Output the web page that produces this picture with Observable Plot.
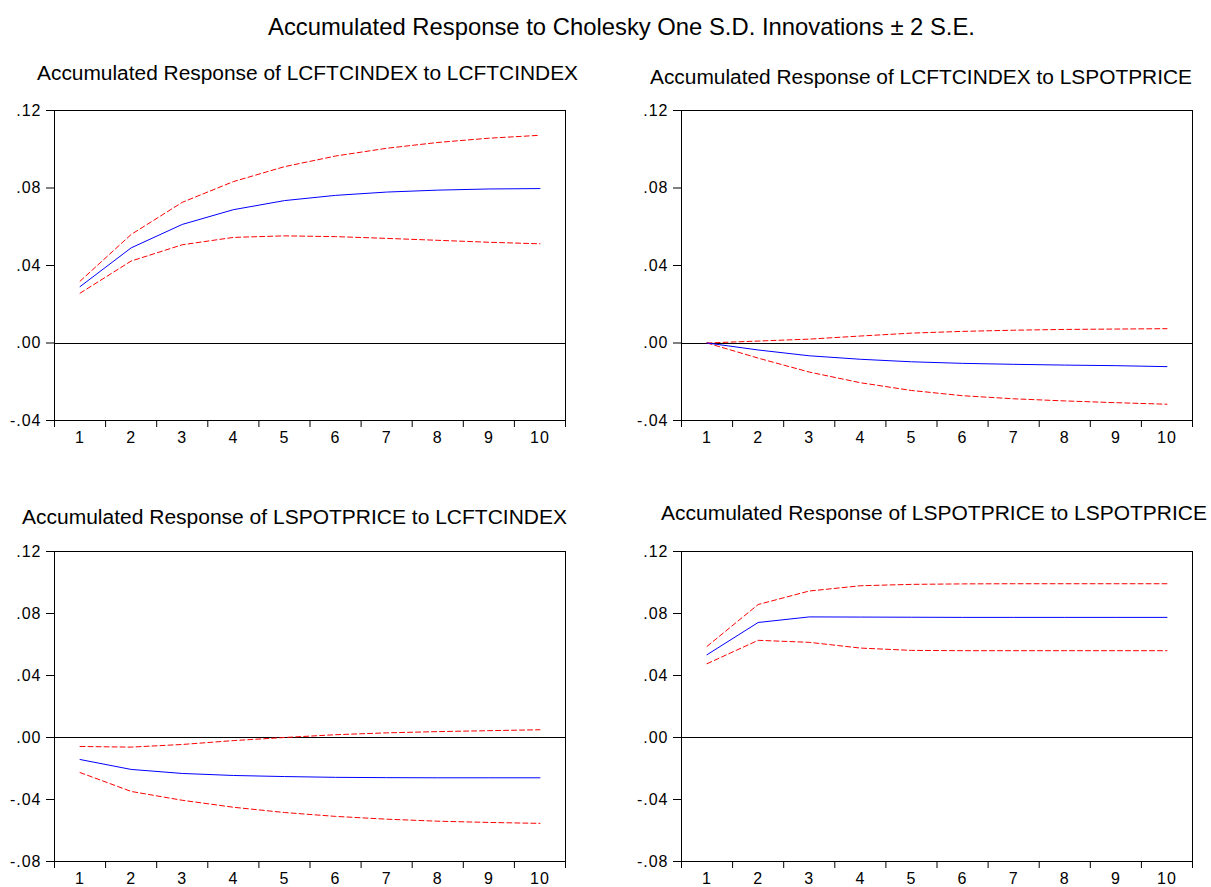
<!DOCTYPE html>
<html>
<head>
<meta charset="utf-8">
<script src="https://cdn.jsdelivr.net/npm/d3@7"></script>
<script src="https://cdn.jsdelivr.net/npm/@observablehq/plot@0.6"></script>
<style>
  html, body { margin: 0; padding: 0; background: #fff; overflow: hidden; }
  #root { position: relative; width: 1211px; height: 887px; background: #fff; }
  .panel { position: absolute; }
  .panel text { font-size: 16px !important; letter-spacing: 1px; font-family: 'Liberation Sans', Arial, Helvetica, sans-serif !important; fill: #000; }
  #titles { position: absolute; left: 0; top: 0; pointer-events: none; }
</style>
</head>
<body>
<div id="root"></div>
<script>
// ---- Data ----
const horizons = [1, 2, 3, 4, 5, 6, 7, 8, 9, 10];
const xTickBoundaries = [0.5, 1.5, 2.5, 3.5, 4.5, 5.5, 6.5, 7.5, 8.5, 9.5, 10.5];
const yTicksTop = [-0.04, 0, 0.04, 0.08, 0.12];
const yTicksBottom = [-0.08, -0.04, 0, 0.04, 0.08, 0.12];

const mainTitle = "Accumulated Response to Cholesky One S.D. Innovations \u00b1 2 S.E.";
const panelTitles = [
  "Accumulated Response of LCFTCINDEX to LCFTCINDEX",
  "Accumulated Response of LCFTCINDEX to LSPOTPRICE",
  "Accumulated Response of LSPOTPRICE to LCFTCINDEX",
  "Accumulated Response of LSPOTPRICE to LSPOTPRICE"
];

// LCFTCINDEX -> LCFTCINDEX
const tlResp  = [0.0291, 0.0491, 0.0612, 0.0688, 0.0735, 0.0762, 0.0779, 0.0789, 0.0795, 0.0797];
const tlUpper = [0.0319, 0.0560, 0.0726, 0.0833, 0.0910, 0.0965, 0.1005, 0.1035, 0.1057, 0.1072];
const tlLower = [0.0257, 0.0423, 0.0507, 0.0545, 0.0553, 0.0549, 0.0540, 0.0530, 0.0520, 0.0512];

// LCFTCINDEX <- LSPOTPRICE
const trResp  = [0, -0.0036, -0.0066, -0.0084, -0.0097, -0.0105, -0.0110, -0.0114, -0.0117, -0.0122];
const trUpper = [0, 0.0010, 0.0020, 0.0036, 0.0051, 0.0060, 0.0066, 0.0070, 0.0072, 0.0074];
const trLower = [0, -0.0078, -0.0150, -0.0205, -0.0245, -0.0272, -0.0288, -0.0299, -0.0308, -0.0316];

// LSPOTPRICE <- LCFTCINDEX
const blResp  = [-0.0142, -0.0206, -0.0232, -0.0245, -0.0252, -0.0257, -0.0259, -0.0260, -0.0260, -0.0260];
const blUpper = [-0.0058, -0.0062, -0.0045, -0.0020, 0.0000, 0.0018, 0.0030, 0.0038, 0.0044, 0.0050];
const blLower = [-0.0226, -0.0348, -0.0405, -0.0450, -0.0484, -0.0509, -0.0527, -0.0540, -0.0548, -0.0554];

// LSPOTPRICE <- LSPOTPRICE
const brResp  = [0.0534, 0.0742, 0.0778, 0.0777, 0.0776, 0.0775, 0.0775, 0.0775, 0.0775, 0.0775];
const brUpper = [0.0588, 0.0858, 0.0945, 0.0979, 0.0988, 0.0991, 0.0992, 0.0992, 0.0992, 0.0992];
const brLower = [0.0476, 0.0627, 0.0614, 0.0577, 0.0562, 0.0560, 0.0560, 0.0560, 0.0560, 0.0560];

// ---- Drawing ----
const fmtY = d => (d < 0 ? "-" : "") + d3.format(".2f")(Math.abs(d)).replace(/^0/, "");
const tickFont = "'Liberation Sans', Arial, Helvetica, sans-serif";
const titleFont = "'Liberation Sans Narrow', 'Arial Narrow', 'Liberation Sans', Arial, sans-serif";

function toRows(arr) { return horizons.map((h, i) => ({h, v: arr[i]})); }

function panel({resp, upper, lower, yDomain, yTicks, left, top, marginBottom}) {
  const chart = Plot.plot({
    width: 575,
    height: 20 + 310 + marginBottom,
    marginLeft: 54,
    marginRight: 10,
    marginTop: 20,
    marginBottom: marginBottom,
    x: {type: "linear", domain: [0.5, 10.5]},
    y: {domain: yDomain},
    style: {fontFamily: tickFont, fontSize: "16px", color: "black", background: "white", overflow: "visible"},
    marks: [
      Plot.ruleY([0], {stroke: "black", strokeWidth: 1, shapeRendering: "crispEdges"}),
      Plot.line(toRows(upper), {x: "h", y: "v", stroke: "#ff0000", strokeWidth: 1, strokeDasharray: "5,3"}),
      Plot.line(toRows(lower), {x: "h", y: "v", stroke: "#ff0000", strokeWidth: 1, strokeDasharray: "5,3"}),
      Plot.line(toRows(resp), {x: "h", y: "v", stroke: "#0000ff", strokeWidth: 1}),
      Plot.frame({stroke: "black", strokeWidth: 1}),
      Plot.axisY({ticks: yTicks, tickSize: 8, tickPadding: 5, tickFormat: fmtY, fontSize: 16, label: null}),
      Plot.axisX({ticks: xTickBoundaries, tickSize: 7, tickFormat: () => "", label: null}),
      Plot.axisX({ticks: horizons, tickSize: 0, tickPadding: 11, tickFormat: d => String(d), fontSize: 16, label: null})
    ]
  });
  chart.classList.add("panel");
  chart.style.left = left + "px";
  chart.style.top = top + "px";
  document.getElementById("root").appendChild(chart);
}

panel({resp: tlResp, upper: tlUpper, lower: tlLower, yDomain: [-0.04, 0.12], yTicks: yTicksTop, left: 0, top: 90, marginBottom: 40});
panel({resp: trResp, upper: trUpper, lower: trLower, yDomain: [-0.04, 0.12], yTicks: yTicksTop, left: 627, top: 90, marginBottom: 40});
panel({resp: blResp, upper: blUpper, lower: blLower, yDomain: [-0.08, 0.12], yTicks: yTicksBottom, left: 0, top: 531, marginBottom: 26});
panel({resp: brResp, upper: brUpper, lower: brLower, yDomain: [-0.08, 0.12], yTicks: yTicksBottom, left: 627, top: 531, marginBottom: 26});

// Titles overlay
const titleSpecs = [
  {text: mainTitle, cx: 621.5, y: 35, w: 707, size: 24},
  {text: panelTitles[0], cx: 307.5, y: 80, w: 541, size: 20},
  {text: panelTitles[1], cx: 921, y: 84, w: 542, size: 20},
  {text: panelTitles[2], cx: 294.5, y: 524, w: 545, size: 20},
  {text: panelTitles[3], cx: 934, y: 520, w: 546, size: 20}
];
const svg = d3.select("#root").append("svg")
  .attr("id", "titles").attr("width", 1211).attr("height", 887);
svg.selectAll("text").data(titleSpecs).join("text")
  .attr("x", d => d.cx)
  .attr("y", d => d.y)
  .attr("text-anchor", "middle")
  .attr("font-family", titleFont)
  .attr("font-size", d => d.size)
  .attr("fill", "black")
  .attr("textLength", d => d.w)
  .attr("lengthAdjust", "spacingAndGlyphs")
  .text(d => d.text);
</script>
</body>
</html>
